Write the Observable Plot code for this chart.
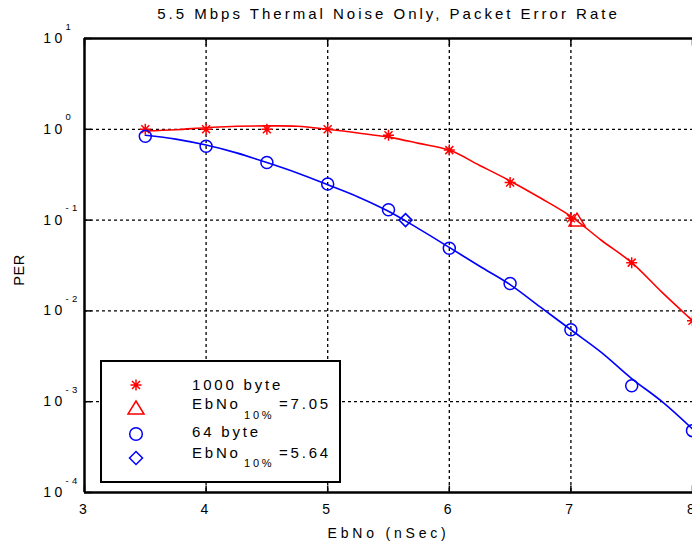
<!DOCTYPE html>
<html><head><meta charset="utf-8">
<script src="https://cdn.jsdelivr.net/npm/d3@7"></script>
<script src="https://cdn.jsdelivr.net/npm/@observablehq/plot@0.6"></script>
<style>
body{margin:0;background:#fff;font-family:"Liberation Sans",Arial,sans-serif;}
#wrap{position:relative;width:692px;height:546px;overflow:hidden;}
#legend{position:absolute;left:100px;top:360px;}
</style>
</head><body>
<div id="wrap"><div id="chart"></div><svg id="legend" width="241" height="123"></svg></div>
<script>
// ---- data ----
const ebno = [3.5, 4, 4.5, 5, 5.5, 6, 6.5, 7, 7.5, 8];
const per1000 = [1.0, 1.0, 1.0, 1.0, 0.86, 0.59, 0.26, 0.105, 0.034, 0.0078];
const per64 = [0.84, 0.65, 0.43, 0.25, 0.13, 0.049, 0.020, 0.0062, 0.0015, 0.00048];
const fitEbno = [3.5, 3.75, 4, 4.25, 4.5, 4.75, 5, 5.25, 5.5, 5.75, 6, 6.25, 6.5, 6.75, 7, 7.25, 7.5, 7.75, 8];
const fit1000 = [0.96, 0.99, 1.04, 1.08, 1.09, 1.08, 1.0, 0.91, 0.82, 0.70, 0.59, 0.40, 0.27, 0.175, 0.11, 0.06, 0.034, 0.016, 0.0078];
const fit64 = [0.86, 0.78, 0.67, 0.55, 0.43, 0.33, 0.245, 0.18, 0.125, 0.08, 0.05, 0.031, 0.0195, 0.011, 0.0062, 0.0035, 0.0018, 0.001, 0.0005];
const ebno10_1000 = 7.05, ebno10_64 = 5.64, perTarget = 0.1;
const xTicks = [3, 4, 5, 6, 7, 8];
const yTicks = [1e-4, 1e-3, 1e-2, 1e-1, 1, 10];
const yExp = ["-4", "-3", "-2", "-1", "0", "1"];
const title = "5.5 Mbps Thermal Noise Only, Packet Error Rate";
const xLabel = "EbNo (nSec)";
const yLabel = "PER";
const legendLabels = ["1000 byte", "EbNo", "10%", "=7.05", "64 byte", "EbNo", "10%", "=5.64"];

const RED = "#ff0000", BLUE = "#0000ff";
const FONT = "'Liberation Sans', Arial, sans-serif";

// ---- symbols ----
const star = {draw(c){const a=5.5,b=4;c.moveTo(-a,0);c.lineTo(a,0);c.moveTo(0,-a);c.lineTo(0,a);c.moveTo(-b,-b);c.lineTo(b,b);c.moveTo(-b,b);c.lineTo(b,-b);}};
const tri = {draw(c){c.moveTo(0,-7);c.lineTo(8,6);c.lineTo(-8,6);c.closePath();}};
const diamond = {draw(c){c.moveTo(0,-6.5);c.lineTo(6.5,0);c.lineTo(0,6.5);c.lineTo(-6.5,0);c.closePath();}};
const tickUp = {draw(c){c.moveTo(0,0);c.lineTo(0,-7);}};
const tickDown = {draw(c){c.moveTo(0,0);c.lineTo(0,7);}};
const tickRight = {draw(c){c.moveTo(0,0);c.lineTo(7,0);}};

const pts1000 = ebno.map((x,i)=>({x, y: per1000[i]}));
const pts64 = ebno.map((x,i)=>({x, y: per64[i]}));
const f1000 = fitEbno.map((x,i)=>({x, y: fit1000[i]}));
const f64 = fitEbno.map((x,i)=>({x, y: fit64[i]}));
const xMin = xTicks[0], xMax = xTicks[xTicks.length-1];
const yMin = yTicks[0], yMax = yTicks[yTicks.length-1];

const chart = Plot.plot({
  width: 692, height: 546,
  marginLeft: 84, marginRight: 0, marginTop: 38, marginBottom: 54,
  x: {domain: [xMin, xMax], axis: null},
  y: {type: "log", domain: [yMin, yMax], axis: null},
  style: {fontFamily: FONT, background: "#fff"},
  marks: [
    Plot.ruleX(xTicks.slice(1, -1), {stroke: "#000", strokeWidth: 1.3, strokeDasharray: "3,3"}),
    Plot.ruleY(yTicks.slice(1, -1), {stroke: "#000", strokeWidth: 1.3, strokeDasharray: "3,3"}),
    Plot.dot(xTicks, {x: d=>d, y: yMin, symbol: tickUp, stroke: "#000", strokeWidth: 1.5, fill: "none"}),
    Plot.dot(xTicks, {x: d=>d, y: yMax, symbol: tickDown, stroke: "#000", strokeWidth: 1.5, fill: "none"}),
    Plot.dot(yTicks, {x: xMin, y: d=>d, symbol: tickRight, stroke: "#000", strokeWidth: 1.5, fill: "none"}),
    Plot.ruleX([xMin], {stroke: "#000", strokeWidth: 2.5}),
    Plot.ruleY([yMin, yMax], {stroke: "#000", strokeWidth: 2.5}),
    Plot.line(f1000, {x: "x", y: "y", stroke: RED, strokeWidth: 1.6, curve: "catmull-rom"}),
    Plot.line(f64, {x: "x", y: "y", stroke: BLUE, strokeWidth: 1.6, curve: "catmull-rom"}),
    Plot.dot(pts1000, {x: "x", y: "y", symbol: star, stroke: RED, strokeWidth: 1.5, fill: "none"}),
    Plot.dot(pts64, {x: "x", y: "y", r: 6, stroke: BLUE, strokeWidth: 1.5, fill: "none"}),
    Plot.dot([ebno10_1000], {x: d=>d, y: perTarget, symbol: tri, stroke: RED, strokeWidth: 1.5, fill: "none"}),
    Plot.dot([ebno10_64], {x: d=>d, y: perTarget, symbol: diamond, stroke: BLUE, strokeWidth: 1.5, fill: "none"}),
    // tick labels
    Plot.text(xTicks, {x: d=>d, y: yMin, text: d=>String(d), dy: 17, fontSize: 14, fill: "#000"}),
    Plot.text(yTicks, {x: xMin, y: d=>d, text: ()=>"10", textAnchor: "end", dx: -19, dy: 0, fontSize: 14, fill: "#000"}),
    Plot.text(yTicks, {x: xMin, y: d=>d, text: (d,i)=>yExp[i], textAnchor: "start", dx: -19, dy: -12, fontSize: 9.5, fill: "#000"}),
    // titles
    Plot.text([title], {frameAnchor: "top", lineAnchor: "middle", dy: -24, fontSize: 15, fill: "#000"}),
    Plot.text([xLabel], {frameAnchor: "bottom", lineAnchor: "middle", dy: 41, fontSize: 14, fill: "#000"}),
    Plot.text([yLabel], {frameAnchor: "left", textAnchor: "middle", lineAnchor: "middle", rotate: -90, fontSize: 14.5, fill: "#000"})
  ]
});
document.getElementById("chart").appendChild(chart);
const texts = d3.select(chart).selectAll("text");
texts.attr("letter-spacing", "3.3px");
texts.filter(function(){ return this.textContent === title; }).attr("letter-spacing", "3px");
texts.filter(function(){ return this.textContent === xLabel; }).attr("letter-spacing", "3.8px");
const perText = texts.filter(function(){ return this.textContent === yLabel; });
perText.attr("letter-spacing", "0.6px").attr("text-anchor", "middle").attr("transform", "translate(19,270) rotate(-90)");
perText.each(function(){ if (this.parentNode && this.parentNode.tagName === "g") this.parentNode.removeAttribute("transform"); });

// ---- legend ----
const lg = d3.select("#legend");
lg.append("rect").attr("x", 1).attr("y", 1).attr("width", 239).attr("height", 121)
  .attr("fill", "#fff").attr("stroke", "#000").attr("stroke-width", 2);
const sym = (type, cx, cy, color) => {
  const p = d3.path(); type.draw(p);
  lg.append("path").attr("d", p.toString()).attr("transform", `translate(${cx},${cy})`)
    .attr("fill", "none").attr("stroke", color).attr("stroke-width", 1.5);
};
sym(star, 36, 25, RED);
sym(tri, 36, 48, RED);
lg.append("circle").attr("cx", 36).attr("cy", 74).attr("r", 6.3).attr("fill", "none").attr("stroke", BLUE).attr("stroke-width", 1.5);
sym(diamond, 36, 98, BLUE);
const txt = (s, x, y, fs) => lg.append("text").attr("x", x).attr("y", y).attr("font-size", fs)
  .attr("letter-spacing", "2.8px").attr("fill", "#000")
  .attr("font-family", FONT).text(s);
txt(legendLabels[0], 92, 29.5, 15);
txt(legendLabels[1], 92, 48.5, 15);
txt(legendLabels[2], 144, 58.5, 11);
txt(legendLabels[3], 179, 48.5, 15);
txt(legendLabels[4], 92, 76.5, 15);
txt(legendLabels[5], 92, 97.5, 15);
txt(legendLabels[6], 144, 106.5, 11);
txt(legendLabels[7], 179, 97.5, 15);
</script>
</body></html>
